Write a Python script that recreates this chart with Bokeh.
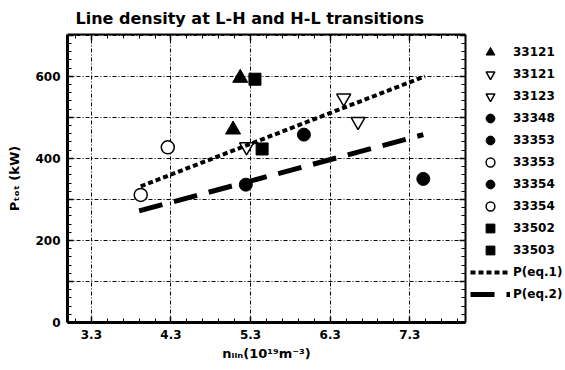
from bokeh.plotting import figure
from bokeh.layouts import row
from bokeh.models import (Range1d, LinearAxis, FixedTicker, SingleIntervalTicker, Grid,
                          Legend, LegendItem)
from bokeh.embed import file_html
from bokeh.resources import INLINE

# ---- data ----
tri_33121_x = [5.17, 5.08]
tri_33121_y = [596, 470]
itri_33121_x = [5.25]
itri_33121_y = [428]
itri_33123_x = [6.47, 6.65]
itri_33123_y = [547, 490]
dot_33348_x = [5.97]
dot_33348_y = [458]
dot_33353_x = [5.24]
dot_33353_y = [336]
ring_33353_x = [4.26]
ring_33353_y = [427]
dot_33354_x = [7.47]
dot_33354_y = [350]
ring_33354_x = [3.92]
ring_33354_y = [311]
sq_33502_x = [5.355]
sq_33502_y = [593]
sq_33503_x = [5.445]
sq_33503_y = [423]
eq1_x = [3.92, 7.49]
eq1_y = [332, 600]
eq2_x = [3.90, 7.47]
eq2_y = [272, 458]

x_ticks = [3.3, 4.3, 5.3, 6.3, 7.3]
x_minor = [3.1 + 0.2 * i for i in range(25)]
y_label_ticks = {0: "0", 100: "", 200: "200", 300: "", 400: "400", 500: "", 600: "600", 700: ""}

TITLE = "Line density at L-H and H-L transitions"
X_LABEL = "n\u2097\u1d62\u2099(10\u00b9\u2079m\u207b\u00b3)"
Y_LABEL = "P\u209c\u2092\u209c (kW)"
FONT = "DejaVu Sans"

p = figure(width=470, height=370, output_backend="svg", toolbar_location=None,
           x_range=Range1d(3.0, 8.0), y_range=Range1d(0, 702),
           min_border_left=67, min_border_right=5, min_border_top=33, min_border_bottom=48,
           x_axis_type=None, y_axis_type=None)
p.outline_line_color = None
p.background_fill_color = "white"
p.border_fill_color = "white"
p.title.text = TITLE
p.title.align = "left"
p.title.offset = 8
p.title.text_font = FONT
p.title.text_font_style = "bold"
p.title.text_font_size = "16px"
p.title.text_color = "black"
p.title.standoff = 13

xt = FixedTicker(ticks=x_ticks, minor_ticks=x_minor)
yt = SingleIntervalTicker(interval=100, num_minor_ticks=5)

def style_axis(ax, width, labels):
    ax.axis_line_width = width
    ax.axis_line_color = "black"
    ax.major_tick_in = 6
    ax.major_tick_out = 0
    ax.minor_tick_in = 4
    ax.minor_tick_out = 0
    ax.major_tick_line_width = 1.5
    ax.minor_tick_line_width = 1
    ax.major_label_text_font = FONT
    ax.major_label_text_font_style = "bold"
    ax.major_label_text_font_size = "12px"
    ax.major_label_text_color = "black"
    ax.major_label_standoff = 7 if labels else 0
    ax.axis_label_text_font = FONT
    ax.axis_label_text_font_style = "bold"
    ax.axis_label_text_font_size = "13px"
    ax.axis_label_text_color = "black"

xb = LinearAxis(ticker=xt, axis_label=X_LABEL)
style_axis(xb, 3, True)
xb.axis_label_standoff = 4
p.add_layout(xb, "below")
yl = LinearAxis(ticker=yt, major_label_overrides=y_label_ticks, axis_label=Y_LABEL)
style_axis(yl, 3, True)
yl.axis_label_standoff = 10
p.add_layout(yl, "left")
xa = LinearAxis(ticker=xt, major_label_overrides={v: "" for v in x_ticks})
style_axis(xa, 2, False)
p.add_layout(xa, "above")
yr = LinearAxis(ticker=yt, major_label_overrides={v: "" for v in y_label_ticks})
style_axis(yr, 2, False)
p.add_layout(yr, "right")

for g in (Grid(dimension=0, ticker=xt), Grid(dimension=1, ticker=yt)):
    g.grid_line_color = "black"
    g.grid_line_width = 1
    g.grid_line_dash = "4 2 1 2"
    p.add_layout(g, "center")

# ---- series styles ----
series = [
    ("33121", "triangle", 15, "black", 1, tri_33121_x, tri_33121_y),
    ("33121", "inverted_triangle", 14, "white", 1.5, itri_33121_x, itri_33121_y),
    ("33123", "inverted_triangle", 14, "white", 1.5, itri_33123_x, itri_33123_y),
    ("33348", "circle", 13, "black", 1, dot_33348_x, dot_33348_y),
    ("33353", "circle", 13, "black", 1, dot_33353_x, dot_33353_y),
    ("33353", "circle", 13, "white", 1.5, ring_33353_x, ring_33353_y),
    ("33354", "circle", 13, "black", 1, dot_33354_x, dot_33354_y),
    ("33354", "circle", 13, "white", 1.5, ring_33354_x, ring_33354_y),
    ("33502", "square", 12, "black", 1, sq_33502_x, sq_33502_y),
    ("33503", "square", 12, "black", 1, sq_33503_x, sq_33503_y),
]
lines = [
    ("P(eq.1)", 4, "5 3", eq1_x, eq1_y),
    ("P(eq.2)", 5, "24 12", eq2_x, eq2_y),
]

# legend panel: a separate, axis-less figure placed to the right of the chart.
# It holds the same series (outside its own view) so the legend can draw their glyphs.
q = figure(width=95, height=370, output_backend="svg", toolbar_location=None,
           x_range=Range1d(0, 1), y_range=Range1d(0, 1),
           min_border_left=0, min_border_right=0, min_border_top=0, min_border_bottom=0,
           x_axis_type=None, y_axis_type=None)
q.outline_line_color = None
q.border_fill_color = "white"
q.background_fill_color = "white"

items = []
for label, marker, size, fill, lw, xs, ys in series:
    p.scatter(xs, ys, marker=marker, size=size, fill_color=fill, line_color="black", line_width=lw)
    r = q.scatter(xs, ys, marker=marker, size=size, fill_color=fill, line_color="black", line_width=lw)
    items.append(LegendItem(label=label, renderers=[r]))
for label, lw, dash, xs, ys in lines:
    p.line(xs, ys, line_color="black", line_width=lw, line_dash=dash)
    r = q.line(xs, ys, line_color="black", line_width=lw, line_dash=dash)
    items.append(LegendItem(label=label, renderers=[r]))

legend = Legend(items=items, location=(0, 17), margin=0, padding=0,
                border_line_color=None, background_fill_alpha=0,
                glyph_width=40, glyph_height=22, label_height=22, spacing=0,
                label_standoff=3, label_text_font=FONT, label_text_font_style="bold",
                label_text_font_size="12px", label_text_color="black")
q.add_layout(legend, "center")

layout = row(p, q, spacing=0)
open("out.html", "w").write(file_html(layout, INLINE))
